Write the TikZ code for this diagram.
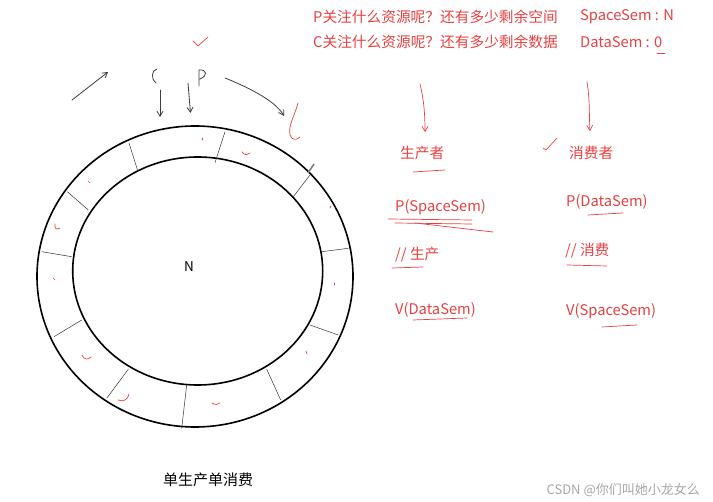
\documentclass[tikz,border=0pt]{standalone}
\usepackage{fontspec}
\setmainfont{Noto Sans CJK SC}
\usetikzlibrary{arrows.meta}
\definecolor{inkred}{RGB}{232,64,64}
\definecolor{inkgray}{RGB}{60,60,60}
\tikzset{
  redtxt/.style={text=inkred, font=\fontsize{14.7}{16}\selectfont, inner sep=0pt, anchor=west},
  hand/.style={draw=inkred, line width=0.7pt, line cap=round},
  pen/.style={draw=inkgray, line width=0.8pt, line cap=round},
  tipd/.style={-{Straight Barb[length=5pt,width=6pt]}},
  ring/.style={draw=black, line width=1.6pt},
  divider/.style={draw=black!80, line width=0.5pt},
}
\begin{document}
\begin{tikzpicture}[x=1pt,y=-1pt]
\useasboundingbox (0,0) rectangle (713,502);
% ring
\draw[ring] (195,276.5) ellipse [x radius=158, y radius=150.5];
\draw[ring] (197.7,271) ellipse [x radius=125, y radius=114];
\node[font=\fontsize{13.5}{15}\selectfont, inner sep=0pt] (N) at (189,267) {N};
% dividers
\draw[divider] (129,143) -- (137.7,170.7);
\draw[divider] (225,131.7) -- (215,162.7);
\draw[divider] (310,175) -- (293.3,196.7);
\draw[divider] (348.3,248.3) -- (321.7,251.7);
\draw[divider] (338.3,335) -- (310,325);
\draw[divider] (280.7,400) -- (266.7,369.3);
\draw[divider] (181.7,428.3) -- (186.7,385);
\draw[divider] (106.7,398.3) -- (128.3,369.3);
\draw[divider] (54,336.7) -- (81.7,320);
\draw[divider] (41.7,251.7) -- (71.7,256.7);
\draw[divider] (67.3,191.7) -- (88.3,210);
% pencil mark
\draw[draw=gray, line width=1.6pt] (314,164) -- (308,173);
% small red marks in ring
\draw[hand] (88,181) -- (90,183);
\draw[hand] (55,224) .. controls (54,229) and (57,230) .. (60,228);
\draw[hand] (53,278) -- (55,280);
\draw[hand] (82,355) .. controls (84,360) and (88,360) .. (91,357);
\draw[hand] (129,394) .. controls (128,400) and (123,402) .. (118,400);
\draw[hand] (212,403) .. controls (215,405) and (218,405) .. (220,403);
\draw[hand] (306,351) -- (307,354);
\draw[hand] (334,283) -- (334,285);
\draw[hand] (331,206) -- (330,208);
\draw[hand] (242,152) .. controls (245,156) and (248,155) .. (250,153);
\draw[hand] (202,138) -- (202,140);
\draw[hand] (298,103) .. controls (295,115) and (288,125) .. (290,135) .. controls (292,141) and (297,140) .. (300,137);
% black hand-drawn arrows and letters
\coordinate (a1s) at (72,100); \coordinate (a1e) at (108,72);
\draw[pen, tipd] (a1s) -- (a1e);
\draw[pen] (157,69) .. controls (151,70) and (151,80) .. (156,83);
\draw[pen] (199,86) -- (199,70) .. controls (207,69) and (208,76) .. (200,79);
\coordinate (a2s) at (160,90); \coordinate (a2e) at (160,117);
\draw[pen, tipd] (a2s) -- (a2e);
\coordinate (a3s) at (188,83); \coordinate (a3e) at (190.5,113);
\draw[pen, tipd] (a3s) -- (a3e);
\coordinate (a4s) at (225,78); \coordinate (a4e) at (284,116);
\draw[pen, tipd] (a4s) .. controls (245,86) and (275,100) .. (a4e);
% red check mark top
\draw[hand] (193,41) -- (198,46) -- (208,37);
% top texts
\node[redtxt] (t1) at (313,17) {P关注什么资源呢？还有多少剩余空间};
\node[redtxt] (t1b) at (580,17) {SpaceSem : N};
\node[redtxt] (t2) at (313,42) {C关注什么资源呢？还有多少剩余数据};
\node[redtxt] (t2b) at (580,42) {DataSem : 0};
\draw[hand] (657,53) -- (665,53);
% red arrows right
\coordinate (r1s) at (420,84); \coordinate (r1e) at (425,132);
\draw[hand, tipd] (r1s) .. controls (424,100) and (425,115) .. (r1e);
\coordinate (r2s) at (587,82); \coordinate (r2e) at (590,131);
\draw[hand, tipd] (r2s) .. controls (590,100) and (589,115) .. (r2e);
% check
\draw[hand] (543,148) -- (546,150) -- (557,138);
% producer column
\node[redtxt] (prod) at (400,153) {生产者};
\draw[hand] (413,172) -- (445,170);
\node[redtxt] (pP) at (395,207) {P(SpaceSem)};
\draw[hand] (388,219) -- (472,220);
\draw[hand] (395,223) -- (472,224);
\draw[hand] (415,223) -- (493,232);
\node[redtxt] (pw) at (395,255) {// 生产};
\draw[hand] (392,268) -- (423,267);
\node[redtxt] (pV) at (395,310) {V(DataSem)};
\draw[hand] (413,320) -- (467,318);
% consumer column
\node[redtxt] (cons) at (569,153) {消费者};
\node[redtxt] (cP) at (566,202) {P(DataSem)};
\draw[hand] (588,215) -- (623,213);
\node[redtxt] (cw) at (565,251) {// 消费};
\draw[hand] (567,265) -- (607,266);
\node[redtxt] (cV) at (566,311) {V(SpaceSem)};
\draw[hand] (602,327) -- (637,325);
% bottom
\node[font=\fontsize{15}{17}\selectfont, inner sep=0pt, anchor=west] (cap) at (163,480) {单生产单消费};
\node[font=\fontsize{13}{15}\selectfont, text=black!35, inner sep=0pt, anchor=east] (wm) at (700,490) {CSDN @你们叫她小龙女么};
\end{tikzpicture}
\end{document}
